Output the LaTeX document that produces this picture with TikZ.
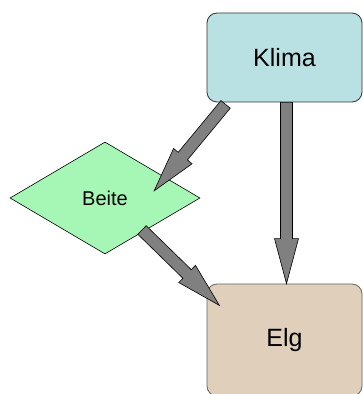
\documentclass[tikz,border=0pt]{standalone}
\usepackage{fontspec}
\setmainfont{Liberation Sans}
\usetikzlibrary{positioning,calc,shapes.geometric}

\definecolor{klimafill}{HTML}{B9E0E3}
\definecolor{elgfill}{HTML}{E0CFBB}
\definecolor{beitefill}{HTML}{A6F7B6}
\definecolor{arrowgray}{HTML}{808080}

% thick block arrow from #1 to #2
\newcommand\blockarrow[2]{%
  \path[draw=black,fill=arrowgray,line width=0.6pt,line join=miter]
    let \p1=(#1), \p2=(#2),
        \n1={atan2(\y2-\y1,\x2-\x1)},
        \n2={veclen(\x2-\x1,\y2-\y1)} in
    [shift={(\p1)},rotate=\n1]
    (0,-6) -- (\n2-45,-6) -- (\n2-45,-12) -- (\n2,0) -- (\n2-45,12) -- (\n2-45,6) -- (0,6) -- cycle;}

\begin{document}
\begin{tikzpicture}[x=1pt,y=1pt]
  \useasboundingbox (0,0) rectangle (363,394);
  \node[shape=rectangle,rounded corners=10pt,draw=black!80,fill=klimafill,line width=0.8pt,
        minimum width=155pt,minimum height=89pt,font=\fontsize{25}{30}\selectfont] (klima) at (284.5,336.5) {Klima};
  \node[shape=diamond,draw=black,fill=beitefill,line width=0.6pt,inner sep=0pt,
        minimum width=190pt,minimum height=112pt,font=\fontsize{20}{24}\selectfont] (beite) at (105,196) {Beite};
  \node[shape=rectangle,rounded corners=10pt,draw=black!60,fill=elgfill,line width=0.8pt,
        minimum width=155pt,minimum height=112pt,font=\fontsize{25}{30}\selectfont] (elg) at (284.5,54) {Elg};
  \coordinate (k1) at ($(klima.south west)+(19,-2)$);
  \coordinate (b1) at ($(beite.center)+(49,7)$);
  \coordinate (k2) at ($(klima.south)+(2,0)$);
  \coordinate (e2) at ($(elg.north)+(2,0)$);
  \coordinate (b2) at ($(beite.center)+(37,-32)$);
  \coordinate (e1) at ($(elg.north west)+(13,-22)$);
  \blockarrow{k1}{b1}
  \blockarrow{k2}{e2}
  \blockarrow{b2}{e1}
\end{tikzpicture}
\end{document}
